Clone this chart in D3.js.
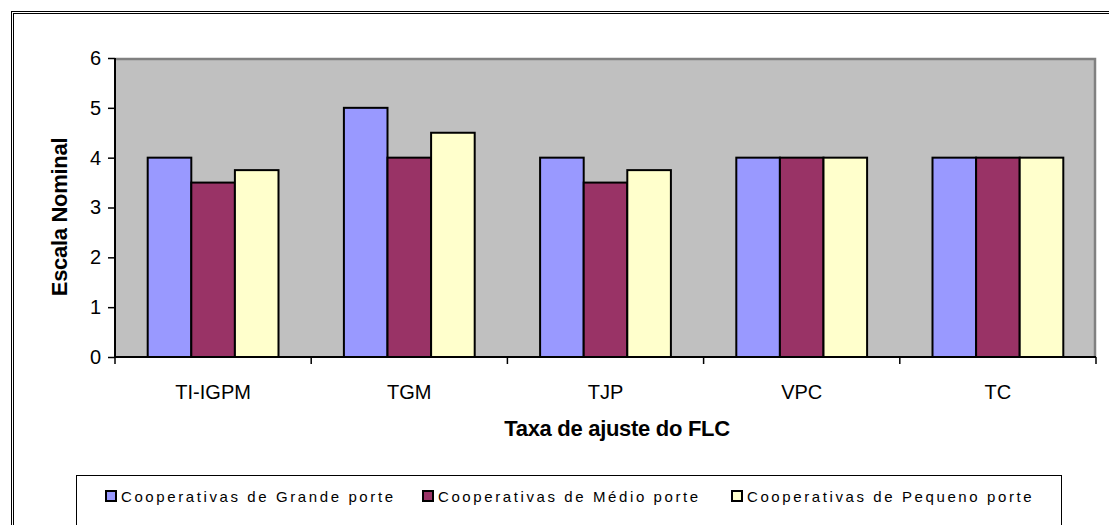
<!DOCTYPE html>
<html>
<head>
<meta charset="utf-8">
<script src="https://cdn.jsdelivr.net/npm/d3@7"></script>
<style>
  body { margin: 0; background: #fff; }
  svg { display: block; font-family: Arial, "Liberation Sans", sans-serif; }
</style>
</head>
<body>
<script>
///////////////////   Data   /////////////////
var categories = ["TI-IGPM", "TGM", "TJP", "VPC", "TC"];
var seriesNames = ["Cooperativas de Grande porte", "Cooperativas de Médio porte", "Cooperativas de Pequeno porte"];
var grande  = [4, 5, 4, 4, 4];
var medio   = [3.5, 4, 3.5, 4, 4];
var pequeno = [3.75, 4.5, 3.75, 4, 4];
var yTicks = [0, 1, 2, 3, 4, 5, 6];

var colors = ["#9999FF", "#993366", "#FFFFCC"];

///////////////////   Layout   /////////////////
var W = 1109, H = 525,
    plotL = 115, plotR = 1096, plotT = 58, plotB = 357;

var svg = d3.select("body").append("svg")
    .attr("width", W).attr("height", H);

// outer double frame
[11.5, 13.5].forEach(function(o){
    svg.append("rect")
        .attr("x", o).attr("y", o)
        .attr("width", 1200).attr("height", 700)
        .attr("fill", "none").attr("stroke", "#000").attr("stroke-width", 1);
});

var x = d3.scaleBand().domain(categories).range([plotL, plotR])
    .paddingInner(1/3).paddingOuter(1/6);
var xs = d3.scaleBand().domain([0, 1, 2]).range([0, x.bandwidth()]);
var y = d3.scaleLinear().domain([0, 6]).range([plotB, plotT]);

// plot background
svg.append("rect")
    .attr("x", plotL).attr("y", plotT)
    .attr("width", plotR - plotL).attr("height", plotB - plotT)
    .attr("fill", "#C0C0C0");
svg.append("path")
    .attr("d", "M" + plotL + "," + (plotT + 1) + "H" + (plotR - 1) + "V" + plotB)
    .attr("fill", "none").attr("stroke", "#808080").attr("stroke-width", 2.5);

// bars
var rows = categories.map(function(c, i){ return {cat: c, vals: [grande[i], medio[i], pequeno[i]]}; });
var groups = svg.selectAll(".grp").data(rows).enter().append("g")
    .attr("class", "grp")
    .attr("transform", function(d){ return "translate(" + x(d.cat) + ",0)"; });
groups.selectAll("rect").data(function(d){ return d.vals; }).enter().append("rect")
    .attr("x", function(d, i){ return xs(i); })
    .attr("y", function(d){ return y(d); })
    .attr("width", xs.bandwidth())
    .attr("height", function(d){ return y(0) - y(d); })
    .attr("fill", function(d, i){ return colors[i]; })
    .attr("stroke", "#000").attr("stroke-width", 2);

// y axis
var yAxis = svg.append("g")
    .attr("transform", "translate(" + plotL + ",0)")
    .call(d3.axisLeft(y).tickValues(yTicks).tickFormat(d3.format("d")).tickSize(7).tickPadding(7));
yAxis.select(".domain").attr("stroke", "#000").attr("stroke-width", 2).attr("d", "M0," + plotT + "V" + plotB);
yAxis.selectAll(".tick line").attr("stroke", "#000").attr("stroke-width", 1.5);
yAxis.selectAll("text").attr("font-size", 20).attr("fill", "#000").attr("font-family", "Arial, 'Liberation Sans', sans-serif");

// x axis
var xAxis = svg.append("g")
    .attr("transform", "translate(0," + plotB + ")")
    .call(d3.axisBottom(x).tickSize(0).tickPadding(28));
xAxis.select(".domain").attr("stroke", "#000").attr("stroke-width", 2).attr("d", "M" + plotL + ",0H" + plotR);
xAxis.selectAll("text").attr("font-size", 20).attr("fill", "#000").attr("font-family", "Arial, 'Liberation Sans', sans-serif");
// boundary ticks between categories
var step = x.step(), half = x.paddingInner() * step / 2;
var bounds = categories.map(function(c){ return x(c) - half; }).concat([plotR]);
xAxis.selectAll(".btick").data(bounds).enter().append("line")
    .attr("x1", function(d){ return d; }).attr("x2", function(d){ return d; })
    .attr("y1", 0).attr("y2", 7)
    .attr("stroke", "#000").attr("stroke-width", 1.5);

// axis titles
svg.append("text")
    .attr("transform", "translate(67,217) rotate(-90)")
    .attr("text-anchor", "middle")
    .attr("font-size", 22).attr("font-weight", "bold")
    .attr("letter-spacing", -0.3)
    .text("Escala Nominal");
svg.append("text")
    .attr("x", 617).attr("y", 436)
    .attr("text-anchor", "middle")
    .attr("font-size", 22).attr("font-weight", "bold")
    .attr("letter-spacing", -0.3)
    .text("Taxa de ajuste do FLC");

// legend
svg.append("rect")
    .attr("x", 76.5).attr("y", 475.5).attr("width", 985).attr("height", 80)
    .attr("fill", "#fff").attr("stroke", "#000").attr("stroke-width", 1);
var legX = [105, 422, 731];
var leg = svg.selectAll(".leg").data(seriesNames).enter().append("g")
    .attr("class", "leg")
    .attr("transform", function(d, i){ return "translate(" + legX[i] + ",490)"; });
leg.append("rect")
    .attr("x", 1).attr("y", 1).attr("width", 10).attr("height", 10)
    .attr("fill", function(d, i){ return colors[i]; })
    .attr("stroke", "#000").attr("stroke-width", 2);
leg.append("text")
    .attr("x", 16).attr("y", 12)
    .attr("font-size", 15).attr("letter-spacing", 2.6)
    .text(function(d){ return d; });
</script>
</body>
</html>
